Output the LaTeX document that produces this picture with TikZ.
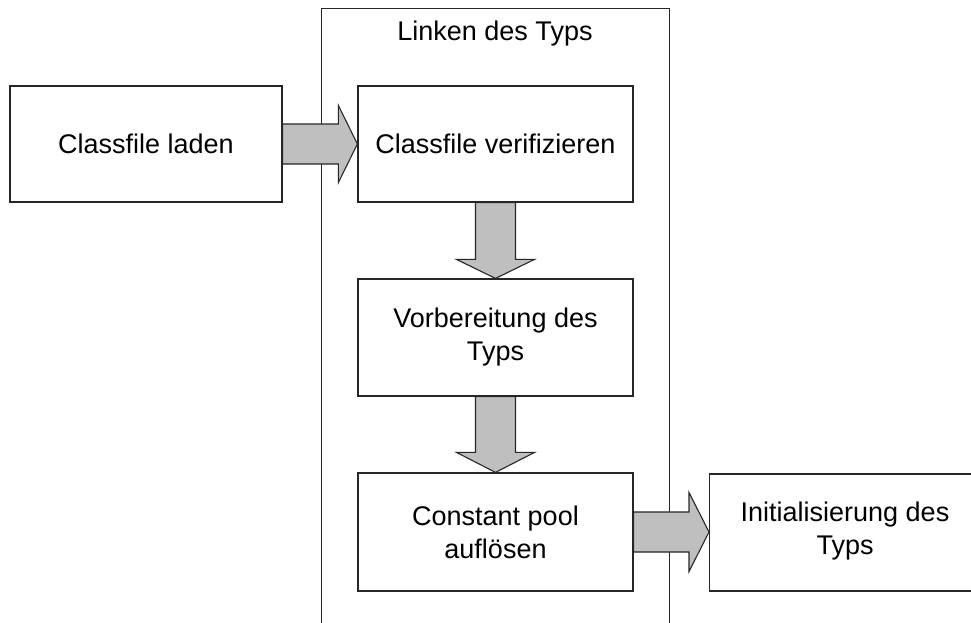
\documentclass[tikz,border=0pt]{standalone}
\usepackage{fontspec}
\setmainfont{Liberation Sans}
\usetikzlibrary{calc}
\begin{document}
\begin{tikzpicture}[x=1pt,y=-1pt,
  every node/.style={font=\fontsize{27}{33}\selectfont, align=center, text=black},
  stepbox/.style={draw=black!85, line width=1.2pt, fill=white, inner sep=0pt},
  fat/.style={draw=black!85, line width=1.1pt, fill=black!25, line join=miter}]
\useasboundingbox (0,0) rectangle (971,622);
\clip (0,0) rectangle (971,622);
% container
\node[draw=black!85, line width=1.2pt, minimum width=348pt, minimum height=640pt, anchor=north west] (cont) at (321,8) {};
\node (title) at (495,34) {Linken des Typs};
% boxes
\node[stepbox, minimum width=272pt, minimum height=116pt] (load) at (146,144) {Classfile laden};
\node[stepbox, minimum width=275pt, minimum height=116pt] (verify) at (495.5,144) {Classfile verifizieren};
\node[stepbox, minimum width=275pt, minimum height=117pt] (prep) at (495.5,337.5) {Vorbereitung des\\Typs};
\node[stepbox, minimum width=275pt, minimum height=118pt] (resolve) at (495.5,532) {Constant pool\\auflösen};
\node[stepbox, minimum width=272pt, minimum height=117pt, anchor=west] (init) at (709,532.5) {};
\node at (845,531) {Initialisierung des\\Typs};
% fat arrows (right)
\draw[fat] let \p1=(load.east), \p2=(verify.west) in
  (\x1,\y2+20pt) -- (\x2-19pt,\y2+20pt) -- (\x2-19pt,\y2+38.5pt) -- (\x2,\y2)
  -- (\x2-19pt,\y2-38.5pt) -- (\x2-19pt,\y2-20pt) -- (\x1,\y2-20pt) -- cycle;
\draw[fat] let \p1=(resolve.east), \p2=(init.west) in
  (\x1,\y1+20pt) -- (\x2-20pt,\y1+20pt) -- (\x2-20pt,\y1+39.5pt) -- (\x2,\y1)
  -- (\x2-20pt,\y1-39.5pt) -- (\x2-20pt,\y1-20pt) -- (\x1,\y1-20pt) -- cycle;
% fat arrows (down)
\draw[fat] let \p1=(verify.south), \p2=(prep.north) in
  (\x1-20pt,\y1) -- (\x1-20pt,\y2+19pt) -- (\x1-39pt,\y2+19pt) -- (\x2,\y2)
  -- (\x1+39pt,\y2+19pt) -- (\x1+20pt,\y2+19pt) -- (\x1+20pt,\y1) -- cycle;
\draw[fat] let \p1=(prep.south), \p2=(resolve.north) in
  (\x1-20pt,\y1) -- (\x1-20pt,\y2+20pt) -- (\x1-39pt,\y2+20pt) -- (\x2,\y2)
  -- (\x1+39pt,\y2+20pt) -- (\x1+20pt,\y2+20pt) -- (\x1+20pt,\y1) -- cycle;
\end{tikzpicture}
\end{document}
